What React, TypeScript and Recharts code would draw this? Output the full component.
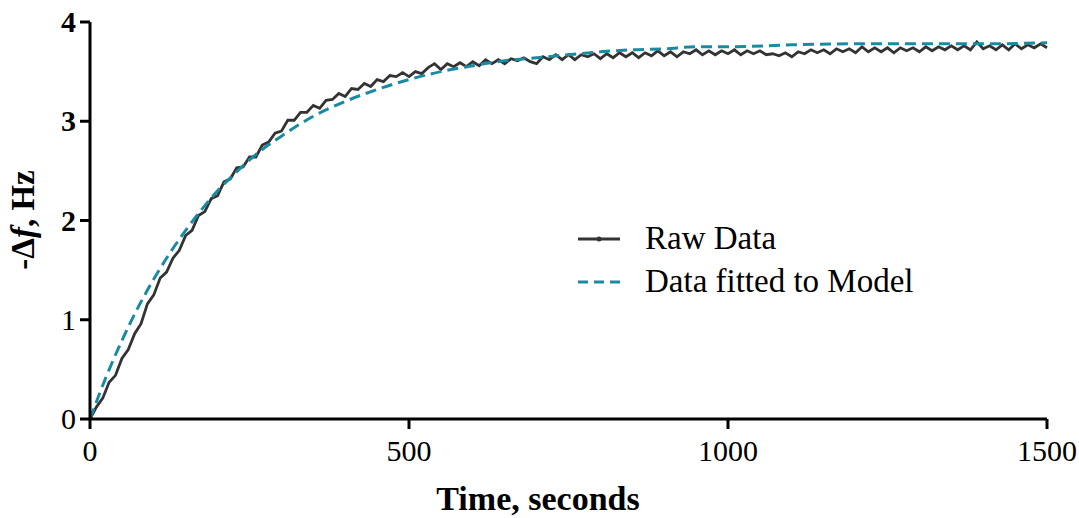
import React from "react";
import { LineChart, Line, XAxis, YAxis, Label } from "recharts";

const RAW_STEP = 10;
const RAW_VALUES = [
  0.00, 0.12, 0.21, 0.37, 0.44, 0.61, 0.70, 0.86, 0.96, 1.16,
  1.25, 1.42, 1.48, 1.62, 1.70, 1.85, 1.90, 2.05, 2.09, 2.22,
  2.25, 2.39, 2.42, 2.53, 2.54, 2.64, 2.64, 2.76, 2.79, 2.88,
  2.90, 3.01, 3.01, 3.09, 3.09, 3.16, 3.13, 3.21, 3.22, 3.28,
  3.25, 3.33, 3.32, 3.38, 3.35, 3.42, 3.40, 3.46, 3.45, 3.49,
  3.45, 3.50, 3.48, 3.54, 3.58, 3.52, 3.58, 3.55, 3.59, 3.55,
  3.60, 3.56, 3.62, 3.58, 3.62, 3.58, 3.63, 3.61, 3.64, 3.60,
  3.58, 3.65, 3.62, 3.67, 3.62, 3.67, 3.62, 3.67, 3.65, 3.68,
  3.63, 3.68, 3.64, 3.69, 3.65, 3.69, 3.64, 3.69, 3.66, 3.71,
  3.66, 3.70, 3.65, 3.70, 3.68, 3.72, 3.67, 3.71, 3.67, 3.71,
  3.68, 3.72, 3.67, 3.71, 3.68, 3.71, 3.67, 3.68, 3.66, 3.69,
  3.65, 3.70, 3.68, 3.72, 3.69, 3.72, 3.68, 3.73, 3.70, 3.73,
  3.69, 3.75, 3.70, 3.74, 3.70, 3.74, 3.69, 3.74, 3.71, 3.74,
  3.70, 3.75, 3.71, 3.75, 3.72, 3.76, 3.72, 3.76, 3.72, 3.80,
  3.73, 3.76, 3.72, 3.77, 3.72, 3.78, 3.73, 3.77, 3.74, 3.78,
  3.74,
];

// Fitted model curve
const FIT_TIMES = [0, 25, 50, 75, 100, 125, 150, 175, 200, 225, 250, 275, 300, 350, 400, 450, 500,
  550, 600, 650, 700, 750, 800, 850, 900, 950, 1000, 1100, 1200, 1300, 1400, 1500];
const FIT_VALUES = [0, 0.42, 0.79, 1.12, 1.41, 1.67, 1.90, 2.11, 2.30, 2.46, 2.61, 2.74, 2.85, 3.05,
  3.20, 3.32, 3.42, 3.50, 3.56, 3.61, 3.64, 3.67, 3.70, 3.72, 3.73, 3.75, 3.75, 3.77, 3.78, 3.78, 3.78, 3.79];

const X_TICKS = [0, 500, 1000, 1500];
const Y_TICKS = [0, 1, 2, 3, 4];
const BOLD_Y_TICKS = [2, 3, 4];

const SERIES_NAMES = ["Raw Data", "Data fitted to Model"];

const RAW_COLOR = "#333333";
const FIT_COLOR = "#1a8aa3";
const FONT = "'Liberation Serif', 'Times New Roman', serif";

const rawData = RAW_VALUES.map((v, i) => ({ t: i * RAW_STEP, v }));
const fitData = FIT_TIMES.map((t, i) => ({ t, v: FIT_VALUES[i] }));

const XTick = ({ x, y, payload }: any) => (
  <text x={x} y={y} dy={30} textAnchor="middle" fontFamily={FONT} fontSize={30} fill="#000">
    {payload.value}
  </text>
);

const YTick = ({ x, y, payload }: any) => (
  <text
    x={x}
    y={y}
    dy={10}
    textAnchor="end"
    fontFamily={FONT}
    fontSize={30}
    fontWeight={BOLD_Y_TICKS.includes(payload.value) ? "bold" : "normal"}
    fill="#000"
  >
    {payload.value}
  </text>
);

const YTitle = () => (
  <text
    x={34}
    y={220}
    transform="rotate(-90, 34, 220)"
    textAnchor="middle"
    fontFamily={FONT}
    fontSize={33}
    fontWeight="bold"
    fill="#000"
  >
    -Δ<tspan fontStyle="italic">f</tspan>, Hz
  </text>
);

const XTitle = () => (
  <text x={538} y={510} textAnchor="middle" fontFamily={FONT} fontSize={34} fontWeight="bold" fill="#000">
    Time, seconds
  </text>
);

// legend drawn as an overlay so it doesn't eat into the plot area
const ChartLegend = () => (
  <div style={{ position: "absolute", left: 577, top: 217, fontFamily: FONT, fontSize: 33, color: "#000" }}>
    {SERIES_NAMES.map((name, i) => (
      <div key={name} style={{ display: "flex", alignItems: "center", height: 43 }}>
        <svg width={44} height={20} style={{ marginRight: 24 }}>
          {i === 0 ? (
            <>
              <line x1={1} y1={10} x2={43} y2={10} stroke={RAW_COLOR} strokeWidth={3} />
              <circle cx={22} cy={10} r={2.5} fill={RAW_COLOR} />
            </>
          ) : (
            <line x1={1} y1={10} x2={43} y2={10} stroke={FIT_COLOR} strokeWidth={3} strokeDasharray="10 6" />
          )}
        </svg>
        <span style={{ whiteSpace: "nowrap", lineHeight: "43px" }}>{name}</span>
      </div>
    ))}
  </div>
);

export default function App() {
  return (
    <div style={{ position: "absolute", left: 0, top: 0, width: 1079, height: 518, background: "#fff" }}>
      <LineChart width={1079} height={518} margin={{ top: 22, right: 32, bottom: 0, left: 0 }}>
        <XAxis
          type="number"
          dataKey="t"
          domain={[0, 1500]}
          ticks={X_TICKS}
          height={99}
          tickSize={10}
          tickMargin={2}
          tick={<XTick />}
          axisLine={{ stroke: "#000", strokeWidth: 3 }}
          tickLine={{ stroke: "#000", strokeWidth: 3 }}
        >
          <Label content={<XTitle />} />
        </XAxis>
        <YAxis
          type="number"
          domain={[0, 4]}
          ticks={Y_TICKS}
          width={90}
          tickSize={10}
          tickMargin={4}
          tick={<YTick />}
          axisLine={{ stroke: "#000", strokeWidth: 3 }}
          tickLine={{ stroke: "#000", strokeWidth: 3 }}
        >
          <Label content={<YTitle />} />
        </YAxis>
        <Line
          data={rawData}
          dataKey="v"
          name={SERIES_NAMES[0]}
          type="linear"
          stroke={RAW_COLOR}
          strokeWidth={2.8}
          dot={false}
          isAnimationActive={false}
        />
        <Line
          data={fitData}
          dataKey="v"
          name={SERIES_NAMES[1]}
          type="monotone"
          stroke={FIT_COLOR}
          strokeWidth={3}
          strokeDasharray="11 6"
          dot={false}
          isAnimationActive={false}
        />
      </LineChart>
      <ChartLegend />
    </div>
  );
}
